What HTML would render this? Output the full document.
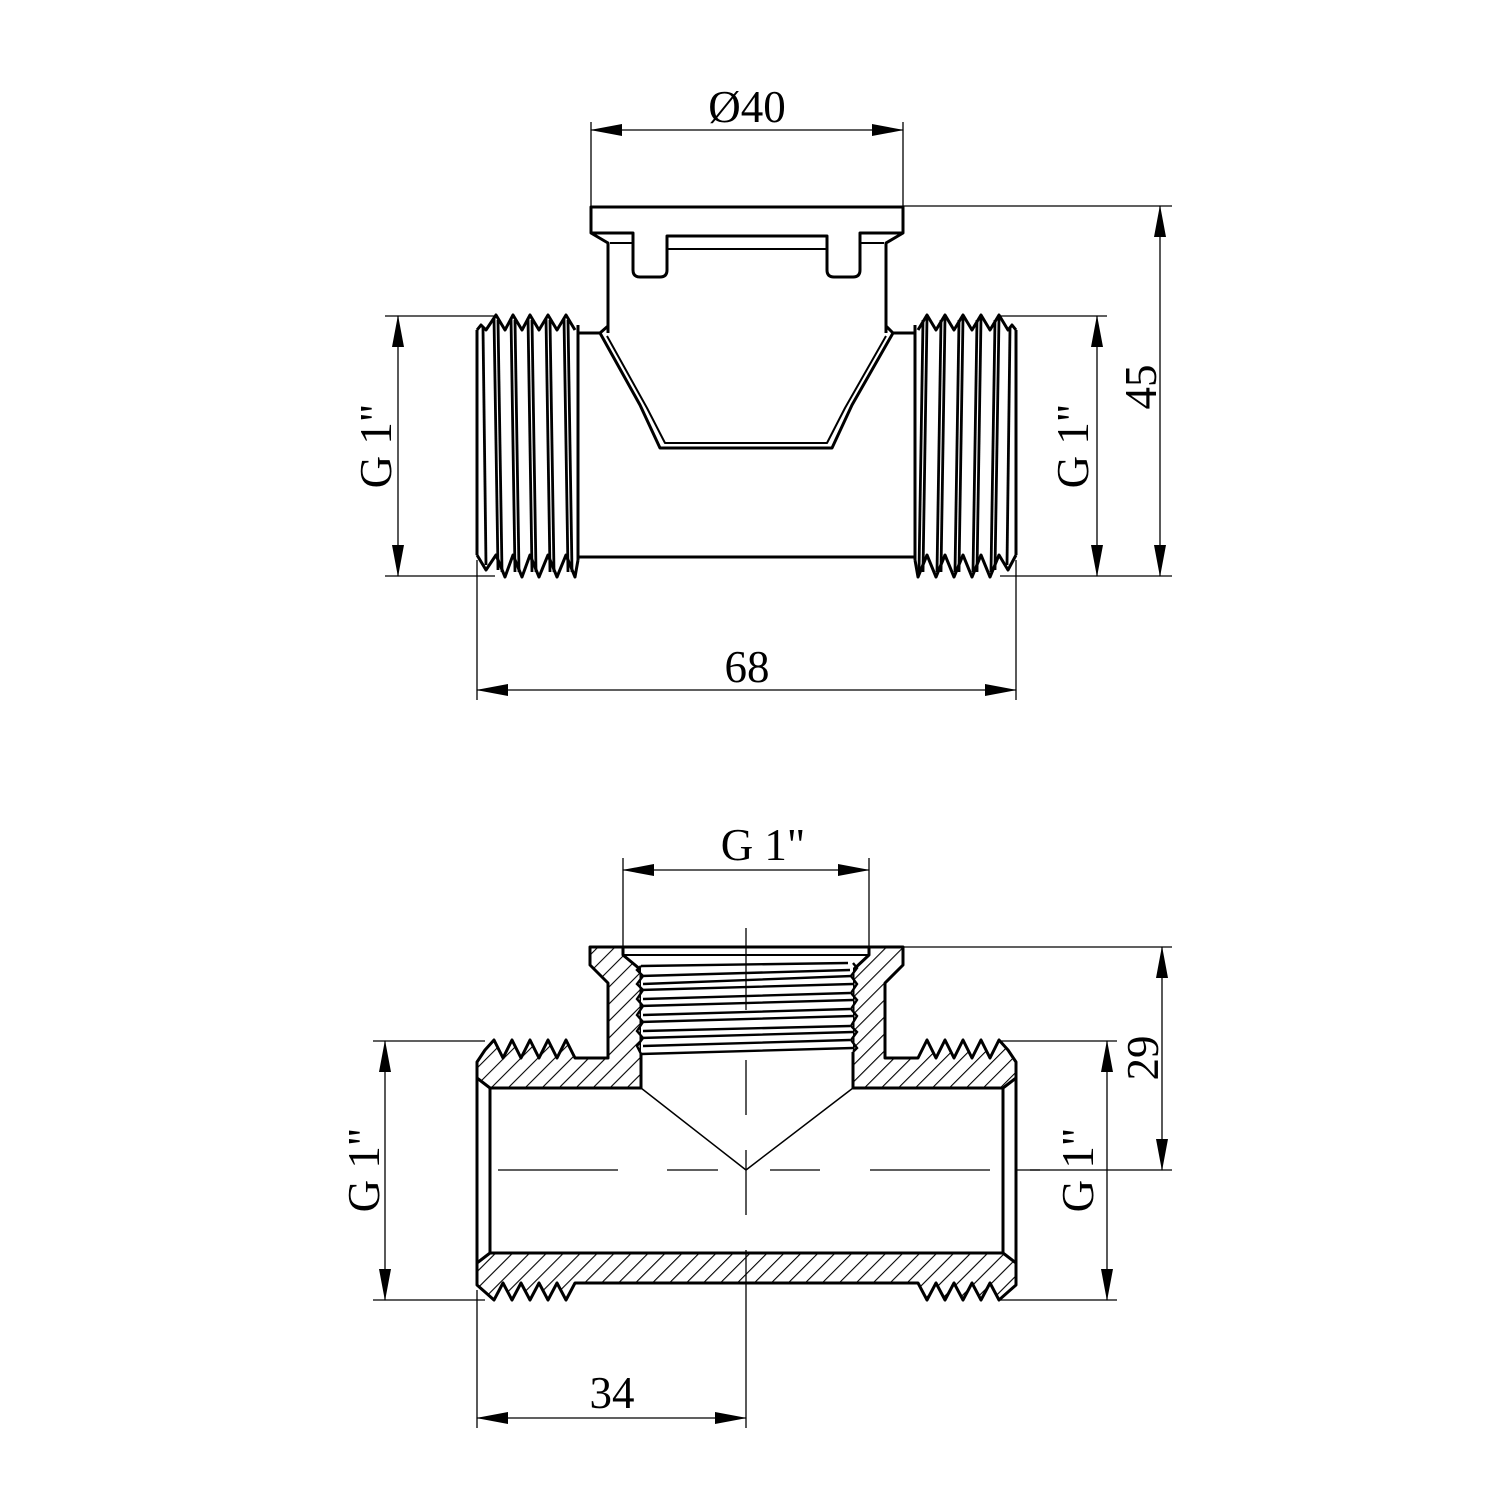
<!DOCTYPE html>
<html><head><meta charset="utf-8"><style>html,body{margin:0;padding:0;background:#fff}svg{display:block}</style></head><body>
<svg width="1500" height="1500" viewBox="0 0 1500 1500" xmlns="http://www.w3.org/2000/svg">
<defs>
<pattern id="h" patternUnits="userSpaceOnUse" width="12" height="12" patternTransform="rotate(45)">
<line x1="0" y1="0" x2="0" y2="12" stroke="#000" stroke-width="2.2"/>
</pattern>
<marker id="a" markerWidth="32" markerHeight="12" refX="31" refY="6" orient="auto-start-reverse" markerUnits="userSpaceOnUse">
<path d="M0,0 L32,6 L0,12 Z" fill="#000"/>
</marker>
</defs>
<g font-family="Liberation Serif, serif" font-size="45" fill="#000">
<!-- ===== TOP VIEW ===== -->
<g stroke="#000" fill="none" stroke-width="1.3">
<line x1="591" y1="122" x2="591" y2="206"/><line x1="903" y1="122" x2="903" y2="206"/>
<line x1="591" y1="130" x2="903" y2="130" marker-start="url(#a)" marker-end="url(#a)"/>
<line x1="903" y1="206" x2="1172" y2="206"/><line x1="1000" y1="576" x2="1172" y2="576"/>
<line x1="1160" y1="206" x2="1160" y2="576" marker-start="url(#a)" marker-end="url(#a)"/>
<line x1="385" y1="316" x2="495" y2="316"/><line x1="385" y1="576" x2="495" y2="576"/>
<line x1="398" y1="316" x2="398" y2="576" marker-start="url(#a)" marker-end="url(#a)"/>
<line x1="1000" y1="316" x2="1107" y2="316"/>
<line x1="1097" y1="316" x2="1097" y2="576" marker-start="url(#a)" marker-end="url(#a)"/>
<line x1="477" y1="560" x2="477" y2="700"/><line x1="1016" y1="560" x2="1016" y2="700"/>
<line x1="477" y1="690" x2="1016" y2="690" marker-start="url(#a)" marker-end="url(#a)"/>
</g>
<g stroke="#000" fill="none" stroke-width="3" stroke-linejoin="round">
<path d="M608,333 L608,243 L591,233 L591,207 L903,207 L903,233 L886,243 L886,333"/>
<path d="M591,233 L633,233 L633,270 Q633,277 640,277 L660,277 Q667,277 667,270 L667,236 L827,236 L827,270 Q827,277 834,277 L853,277 Q860,277 860,270 L860,233 L903,233"/>
<line x1="667" y1="249" x2="827" y2="249" stroke-width="2"/>
<line x1="610" y1="243" x2="633" y2="243" stroke-width="2"/><line x1="860" y1="243" x2="884" y2="243" stroke-width="2"/>
<path d="M578,333 L600,333 L608,326"/><path d="M915,333 L893,333 L886,326"/>
<path d="M600,333 L640,405 L660,448 L832,448 L852,405 L893,333"/>
<path d="M607,336 L647,408 L665,443 L827,443 L845,408 L886,336" stroke-width="2"/>
<line x1="578" y1="557" x2="915" y2="557"/>
<line x1="578" y1="325" x2="578" y2="560"/><line x1="915" y1="325" x2="915" y2="560"/>
<path d="M477,330 L481,325 L486,330 L496,315 L505,330 L513,315 L522,330 L530,315 L539,330 L548,315 L557,330 L566,315 L575,330"/>
<path d="M477,555 L486,570 L496,555 L505,577 L513,555 L522,577 L530,555 L539,577 L548,555 L557,577 L566,555 L575,577 L578,560"/>
<line x1="477" y1="330" x2="477" y2="555"/>
<g stroke-width="2.8">
<line x1="483" y1="328" x2="486" y2="565"/><line x1="494" y1="318" x2="498" y2="570"/><line x1="498" y1="320" x2="502" y2="572"/>
<line x1="511" y1="318" x2="515" y2="572"/><line x1="515" y1="320" x2="519" y2="572"/>
<line x1="528" y1="318" x2="532" y2="572"/><line x1="532" y1="320" x2="536" y2="572"/>
<line x1="546" y1="318" x2="550" y2="572"/><line x1="550" y1="320" x2="554" y2="572"/>
<line x1="564" y1="318" x2="568" y2="572"/><line x1="568" y1="320" x2="572" y2="572"/>
</g>
<path d="M918,330 L927,315 L936,330 L945,315 L954,330 L963,315 L972,330 L981,315 L990,330 L999,315 L1008,330 L1012,325 L1016,330"/>
<path d="M915,560 L918,577 L927,555 L936,577 L945,555 L954,577 L963,555 L972,577 L981,555 L990,577 L999,555 L1008,570 L1016,555"/>
<line x1="1016" y1="330" x2="1016" y2="555"/>
<g stroke-width="2.8">
<line x1="1010" y1="328" x2="1007" y2="565"/><line x1="999" y1="318" x2="995" y2="570"/><line x1="995" y1="320" x2="991" y2="572"/>
<line x1="981" y1="318" x2="977" y2="572"/><line x1="977" y1="320" x2="973" y2="572"/>
<line x1="963" y1="318" x2="959" y2="572"/><line x1="959" y1="320" x2="955" y2="572"/>
<line x1="945" y1="318" x2="941" y2="572"/><line x1="941" y1="320" x2="937" y2="572"/>
<line x1="927" y1="318" x2="923" y2="572"/><line x1="923" y1="320" x2="919" y2="572"/>
</g>
</g>
<text x="747" y="122" text-anchor="middle">Ø40</text>
<text x="747" y="682" text-anchor="middle">68</text>
<text transform="translate(1156,387) rotate(-90)" text-anchor="middle">45</text>
<text transform="translate(391,446) rotate(-90)" text-anchor="middle">G 1"</text>
<text transform="translate(1088,446) rotate(-90)" text-anchor="middle">G 1"</text>

<!-- ===== BOTTOM VIEW ===== -->
<g stroke="#000" fill="none" stroke-width="1.3">
<line x1="623" y1="858" x2="623" y2="947"/><line x1="869" y1="858" x2="869" y2="947"/>
<line x1="623" y1="870" x2="869" y2="870" marker-start="url(#a)" marker-end="url(#a)"/>
<line x1="903" y1="947" x2="1172" y2="947"/><line x1="1016" y1="1170" x2="1172" y2="1170"/>
<line x1="1162" y1="947" x2="1162" y2="1170" marker-start="url(#a)" marker-end="url(#a)"/>
<line x1="373" y1="1041" x2="485" y2="1041"/><line x1="373" y1="1300" x2="485" y2="1300"/>
<line x1="385" y1="1041" x2="385" y2="1300" marker-start="url(#a)" marker-end="url(#a)"/>
<line x1="1000" y1="1041" x2="1117" y2="1041"/><line x1="1000" y1="1300" x2="1117" y2="1300"/>
<line x1="1107" y1="1041" x2="1107" y2="1300" marker-start="url(#a)" marker-end="url(#a)"/>
<line x1="477" y1="1290" x2="477" y2="1428"/>
<line x1="477" y1="1418" x2="746" y2="1418" marker-start="url(#a)" marker-end="url(#a)"/>
<line x1="746" y1="1060" x2="746" y2="1115"/>
<line x1="746" y1="1150" x2="746" y2="1215"/>
<line x1="746" y1="1250" x2="746" y2="1428"/>
<line x1="498" y1="1170" x2="618" y2="1170"/><line x1="667" y1="1170" x2="718" y2="1170"/>
<line x1="770" y1="1170" x2="820" y2="1170"/><line x1="870" y1="1170" x2="990" y2="1170"/>
<line x1="1030" y1="1170" x2="1040" y2="1170"/>
</g>
<g stroke="#000" stroke-width="3" stroke-linejoin="round" fill="url(#h)">
<path d="M477,1062 L485,1050 L494,1040 L503,1058 L512,1040 L521,1058 L530,1040 L539,1058 L548,1040 L557,1058 L566,1040 L575,1058 L608,1058 L608,983 L590,965 L590,947 L623,947 L623,955 L641,970 L641,1088 L490,1088 L477,1078 Z"/>
<path d="M1016,1062 L1008,1050 L999,1040 L990,1058 L981,1040 L972,1058 L963,1040 L954,1058 L945,1040 L936,1058 L927,1040 L918,1058 L885,1058 L885,983 L903,965 L903,947 L869,947 L869,955 L853,970 L853,1088 L1003,1088 L1016,1078 Z"/>
<path d="M477,1263 L490,1253 L1003,1253 L1016,1263 L1016,1285 L1008,1292 L999,1300 L990,1283 L981,1300 L972,1283 L963,1300 L954,1283 L945,1300 L936,1283 L927,1300 L918,1283 L575,1283 L566,1300 L557,1283 L548,1300 L539,1283 L530,1300 L521,1283 L512,1300 L503,1283 L494,1300 L485,1292 L477,1285 Z"/>
</g>
<g stroke="#000" fill="none" stroke-width="3">
<line x1="623" y1="947" x2="869" y2="947"/>
<line x1="477" y1="1078" x2="477" y2="1263"/><line x1="490" y1="1088" x2="490" y2="1253"/>
<line x1="1016" y1="1078" x2="1016" y2="1263"/><line x1="1003" y1="1088" x2="1003" y2="1253"/>
<line x1="623" y1="955" x2="869" y2="955" stroke-width="2"/>
</g>
<g stroke="#000" fill="none" stroke-width="1.5">
<path d="M641,1088 L746,1170 L853,1088"/>
</g>
<g stroke="#000" fill="#fff" stroke-width="2.4">
<path d="M641,965 L853,965 L853,1052 L641,1055 Z" stroke="none"/>
<path d="M641,966 L848,963 M641,976 L850,970 M643,984 L852,976 M640,990 L853,984 M643,999 L850,993 M640,1006 L853,1000 M643,1015 L850,1009 M640,1022 L853,1016 M643,1031 L850,1026 M640,1038 L853,1032 M643,1046 L850,1040 M641,1054 L853,1048" fill="none"/>
<path d="M641,966 L637,970 L643,976 L637,984 L643,990 L637,999 L643,1006 L637,1015 L643,1022 L637,1031 L643,1038 L637,1046 L641,1054" fill="none"/>
<path d="M853,963 L857,968 L851,976 L857,984 L851,993 L857,1000 L851,1009 L857,1016 L851,1026 L857,1032 L851,1040 L857,1048 L853,1052" fill="none"/>
<line x1="746" y1="928" x2="746" y2="1010" stroke-width="1.3"/>
</g>
<text x="763" y="860" text-anchor="middle">G 1"</text>
<text x="612" y="1408" text-anchor="middle">34</text>
<text transform="translate(1158,1058) rotate(-90)" text-anchor="middle">29</text>
<text transform="translate(379,1170) rotate(-90)" text-anchor="middle">G 1"</text>
<text transform="translate(1093,1170) rotate(-90)" text-anchor="middle">G 1"</text>
</g>
</svg>
</body></html>
